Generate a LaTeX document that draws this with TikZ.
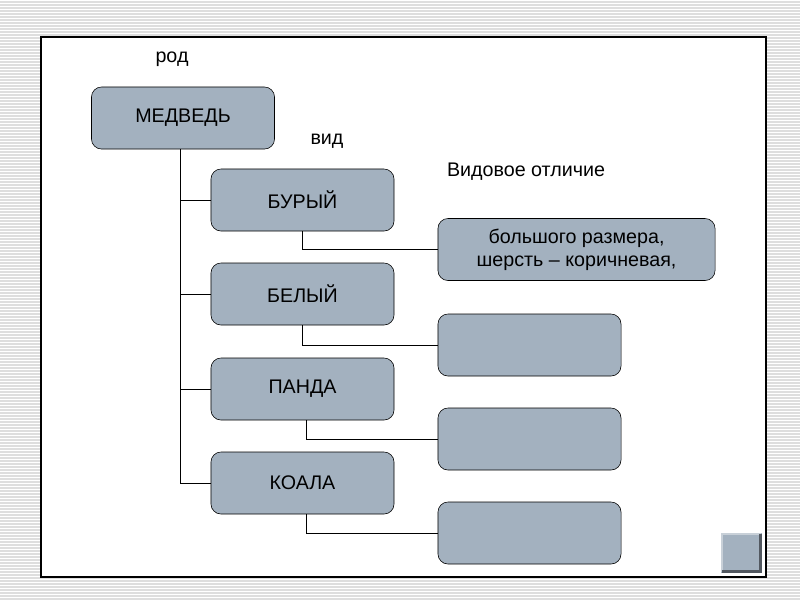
\documentclass[tikz,border=0pt]{standalone}
\usepackage{fontspec}
\setmainfont{Liberation Sans}
\usetikzlibrary{positioning}
\definecolor{boxgray}{RGB}{163,177,191}
\definecolor{stripegray}{RGB}{222,222,222}

\begin{document}
\begin{tikzpicture}[
    x=0.025cm, y=-0.025cm,
    box/.style={rectangle, draw=black, rounded corners=0.25cm, fill=boxgray, font=\fontsize{14}{16.5}\selectfont, align=center, minimum width=4.575cm, minimum height=1.55cm, inner sep=2pt},
    widebox/.style={box, minimum width=6.925cm},
    tag/.style={font=\fontsize{14}{16.5}\selectfont},
    link/.style={draw=black, line width=0.6pt}
]
    % Background with stripes and frame
    \useasboundingbox (0,0) rectangle (800,600);
    \fill[white] (0,0) rectangle (800,600);
    \foreach \y in {2,5,...,599} \draw[stripegray, line width=0.9pt] (0,\y) -- (800,\y);
    \draw[fill=white, line width=0.9pt] (41,37) rectangle (766,577);

    % Genus
    \node[tag] (rod) at (172,59) {род};
    \node[box] (medved) at (183,118) {МЕДВЕДЬ};

    % Species
    \node[tag] (vid) at (327,141) {вид};
    \node[box] (buryi) at (302.5,200) {БУРЫЙ};
    \node[box] (belyi) at (302.5,294) {БЕЛЫЙ};
    \node[box] (panda) at (302.5,389) {ПАНДА};
    \node[box] (koala) at (302.5,483) {КОАЛА};

    % Specific difference
    \node[tag] (otlichie) at (526,172) {Видовое отличие};
    \node[widebox] (diff1) at (576.5,249.5) {большого размера,\\шерсть -- коричневая,};
    \node[box] (diff2) at (529.5,345) {};
    \node[box] (diff3) at (529.5,439) {};
    \node[box] (diff4) at (529.5,533) {};

    % Tree links
    \coordinate (trunk) at ([xshift=-0.075cm]medved.south);
    \draw[link] (trunk) |- (koala.west);
    \foreach \n in {buryi, belyi, panda}
        \draw[link] (\n.west) -- (\n.west -| trunk);
    \draw[link] (buryi.south) |- (diff1.west);
    \draw[link] (belyi.south) |- (diff2.west);
    \draw[link] ([xshift=0.1cm]panda.south) |- (diff3.west);
    \draw[link] ([xshift=0.1cm]koala.south) |- (diff4.west);

    % Corner button
    \node[fill=boxgray, minimum width=1.025cm, minimum height=1cm, inner sep=0pt] (button) at (741.5,553) {};
    \draw[boxgray!60!white, line width=1.5pt] ([shift={(0.03cm,0.03cm)}]button.south west) -- ([shift={(0.03cm,-0.03cm)}]button.north west) -- ([shift={(-0.03cm,-0.03cm)}]button.north east);
    \draw[boxgray!50!black, line width=2pt] ([shift={(-0.04cm,-0.03cm)}]button.north east) -- ([shift={(-0.04cm,0.04cm)}]button.south east) -- ([shift={(0.03cm,0.04cm)}]button.south west);
\end{tikzpicture}
\end{document}
